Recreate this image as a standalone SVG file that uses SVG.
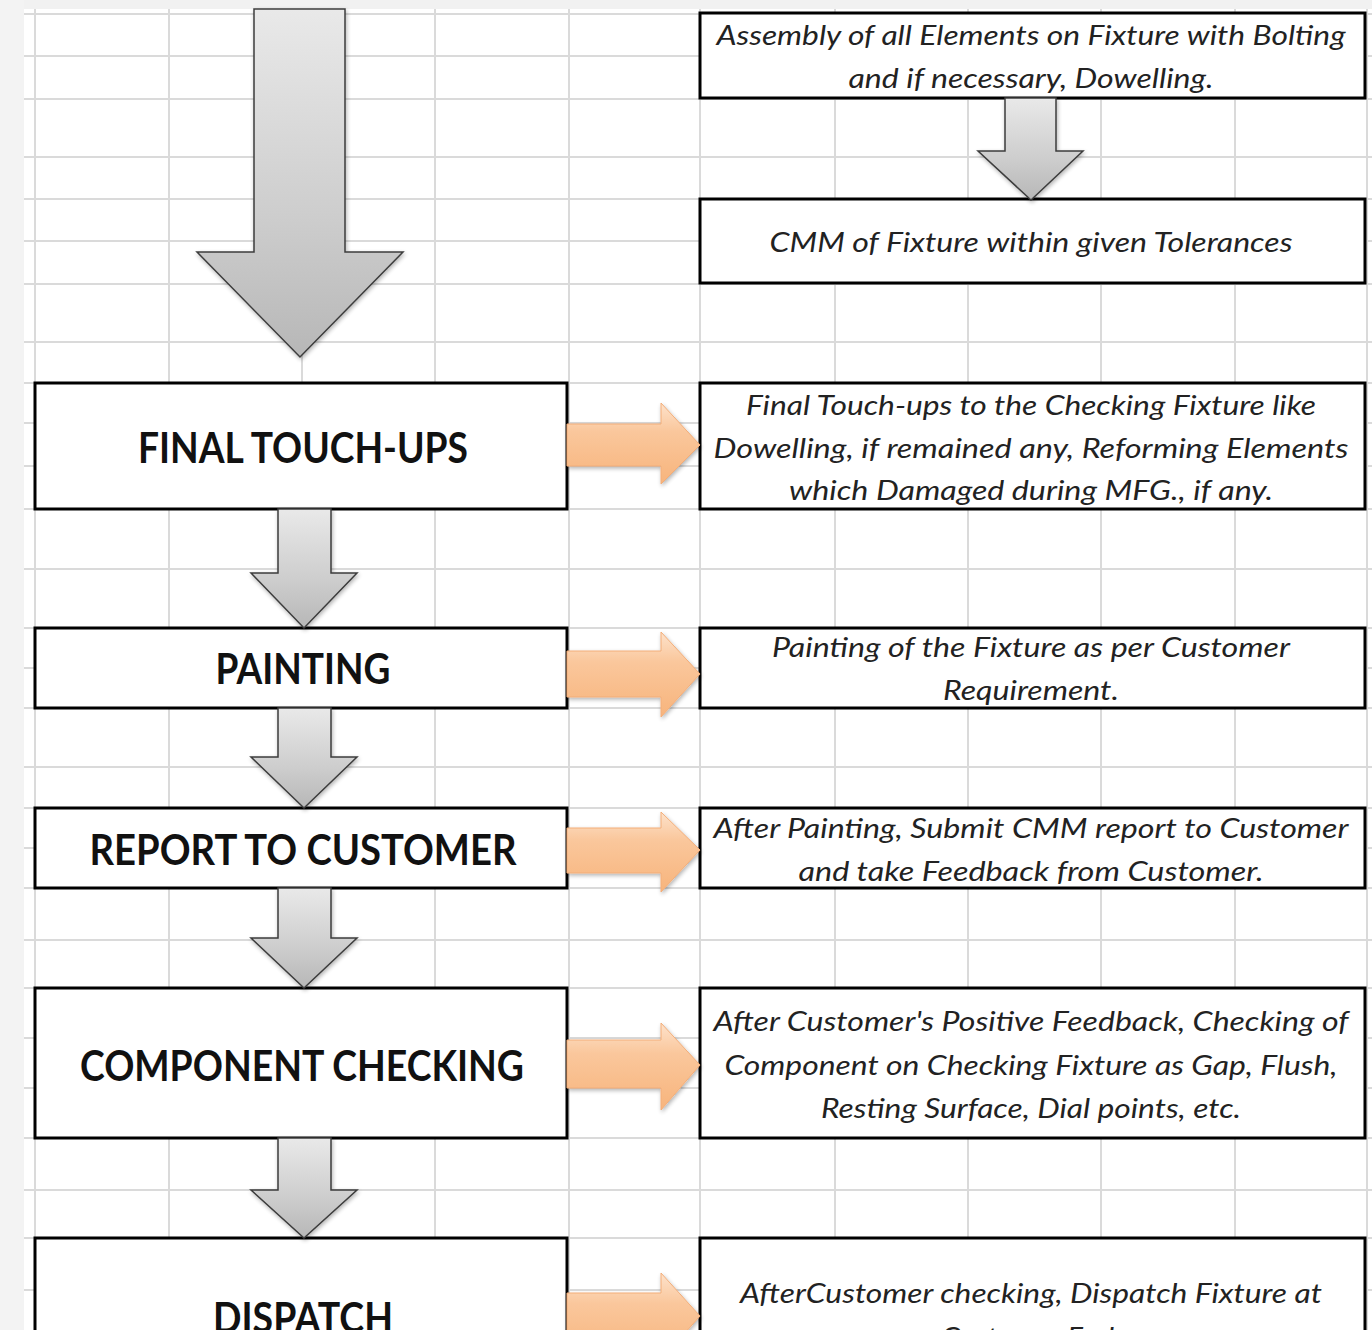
<svg xmlns="http://www.w3.org/2000/svg" width="1372" height="1330" viewBox="0 0 1372 1330">
<defs>
<linearGradient id="gray" x1="0" y1="0" x2="0" y2="1">
<stop offset="0" stop-color="#e9e9e9"/>
<stop offset="0.6" stop-color="#cdcdcd"/>
<stop offset="1" stop-color="#b7b7b7"/>
</linearGradient>
<linearGradient id="orange" x1="0" y1="0" x2="0" y2="1">
<stop offset="0" stop-color="#fde2cb"/>
<stop offset="0.35" stop-color="#fac79c"/>
<stop offset="1" stop-color="#f7b47c"/>
</linearGradient>
<filter id="sh" x="-10%" y="-10%" width="130%" height="130%">
<feGaussianBlur in="SourceAlpha" stdDeviation="2"/>
<feOffset dx="1" dy="2"/>
<feComponentTransfer><feFuncA type="linear" slope="0.3"/></feComponentTransfer>
<feMerge><feMergeNode/><feMergeNode in="SourceGraphic"/></feMerge>
</filter>
</defs>
<style>
.grid line{stroke:#dadada;stroke-width:2}
.box{fill:#ffffff;stroke:#000000;stroke-width:3}
.lbl{font-family:Lato,"Open Sans","Liberation Sans",sans-serif;font-weight:bold;font-size:42px;fill:#111111;text-anchor:middle}
.desc{font-family:Lato,"Open Sans","Liberation Sans",sans-serif;font-style:italic;font-size:27px;fill:#222222;text-anchor:middle}
.ga{fill:url(#gray);stroke:#3c3c3c;stroke-width:1.5;stroke-linejoin:miter}
.oa{fill:url(#orange);stroke:#f3ad78;stroke-width:1}
</style>
<rect x="0" y="0" width="1372" height="1330" fill="#ffffff"/>
<rect x="0" y="0" width="1372" height="9" fill="#f1f1f1"/>
<rect x="0" y="0" width="24" height="1330" fill="#f3f3f3"/>
<g class="grid">
<line x1="24" y1="14" x2="1372" y2="14"/>
<line x1="24" y1="56" x2="1372" y2="56"/>
<line x1="24" y1="99" x2="1372" y2="99"/>
<line x1="24" y1="157" x2="1372" y2="157"/>
<line x1="24" y1="199" x2="1372" y2="199"/>
<line x1="24" y1="241" x2="1372" y2="241"/>
<line x1="24" y1="284" x2="1372" y2="284"/>
<line x1="24" y1="342" x2="1372" y2="342"/>
<line x1="24" y1="383" x2="1372" y2="383"/>
<line x1="24" y1="423" x2="1372" y2="423"/>
<line x1="24" y1="466" x2="1372" y2="466"/>
<line x1="24" y1="509" x2="1372" y2="509"/>
<line x1="24" y1="569" x2="1372" y2="569"/>
<line x1="24" y1="628" x2="1372" y2="628"/>
<line x1="24" y1="668" x2="1372" y2="668"/>
<line x1="24" y1="708" x2="1372" y2="708"/>
<line x1="24" y1="767" x2="1372" y2="767"/>
<line x1="24" y1="808" x2="1372" y2="808"/>
<line x1="24" y1="848" x2="1372" y2="848"/>
<line x1="24" y1="888" x2="1372" y2="888"/>
<line x1="24" y1="940" x2="1372" y2="940"/>
<line x1="24" y1="988" x2="1372" y2="988"/>
<line x1="24" y1="1038" x2="1372" y2="1038"/>
<line x1="24" y1="1088" x2="1372" y2="1088"/>
<line x1="24" y1="1138" x2="1372" y2="1138"/>
<line x1="24" y1="1190" x2="1372" y2="1190"/>
<line x1="24" y1="1238" x2="1372" y2="1238"/>
<line x1="24" y1="1290" x2="1372" y2="1290"/>
<line x1="35" y1="9" x2="35" y2="1330"/>
<line x1="169" y1="9" x2="169" y2="1330"/>
<line x1="302" y1="9" x2="302" y2="1330"/>
<line x1="435" y1="9" x2="435" y2="1330"/>
<line x1="569" y1="9" x2="569" y2="1330"/>
<line x1="700" y1="9" x2="700" y2="1330"/>
<line x1="835" y1="9" x2="835" y2="1330"/>
<line x1="968" y1="9" x2="968" y2="1330"/>
<line x1="1101" y1="9" x2="1101" y2="1330"/>
<line x1="1235" y1="9" x2="1235" y2="1330"/>
<line x1="1367" y1="9" x2="1367" y2="1330"/>
</g>
<g id="assembly"><rect class="box" x="700" y="13" width="665" height="85"/>
<text class="desc" x="1031" y="45" textLength="629" lengthAdjust="spacingAndGlyphs">Assembly of all Elements on Fixture with Bolting</text>
<text class="desc" x="1031" y="88" textLength="365" lengthAdjust="spacingAndGlyphs">and if necessary, Dowelling.</text></g>
<g id="cmm"><rect class="box" x="700" y="199" width="665" height="84"/>
<text class="desc" x="1031" y="252" textLength="523" lengthAdjust="spacingAndGlyphs">CMM of Fixture within given Tolerances</text></g>
<g id="final-touchups"><rect class="box" x="35" y="383" width="532" height="126"/>
<text class="lbl" x="303" y="463" textLength="330" lengthAdjust="spacingAndGlyphs">FINAL TOUCH-UPS</text></g>
<g id="final-touchups-desc"><rect class="box" x="700" y="383" width="665" height="126"/>
<text class="desc" x="1031" y="415" textLength="570" lengthAdjust="spacingAndGlyphs">Final Touch-ups to the Checking Fixture like</text>
<text class="desc" x="1031" y="458" textLength="635" lengthAdjust="spacingAndGlyphs">Dowelling, if remained any, Reforming Elements</text>
<text class="desc" x="1031" y="500" textLength="484" lengthAdjust="spacingAndGlyphs">which Damaged during MFG., if any.</text></g>
<g id="painting"><rect class="box" x="35" y="628" width="532" height="80"/>
<text class="lbl" x="303" y="684" textLength="175" lengthAdjust="spacingAndGlyphs">PAINTING</text></g>
<g id="painting-desc"><rect class="box" x="700" y="628" width="665" height="80"/>
<text class="desc" x="1031" y="657" textLength="518" lengthAdjust="spacingAndGlyphs">Painting of the Fixture as per Customer</text>
<text class="desc" x="1031" y="700" textLength="176" lengthAdjust="spacingAndGlyphs">Requirement.</text></g>
<g id="report"><rect class="box" x="35" y="808" width="532" height="80"/>
<text class="lbl" x="303" y="865" textLength="427" lengthAdjust="spacingAndGlyphs">REPORT TO CUSTOMER</text></g>
<g id="report-desc"><rect class="box" x="700" y="808" width="665" height="80"/>
<text class="desc" x="1031" y="838" textLength="635" lengthAdjust="spacingAndGlyphs">After Painting, Submit CMM report to Customer</text>
<text class="desc" x="1031" y="881" textLength="465" lengthAdjust="spacingAndGlyphs">and take Feedback from Customer.</text></g>
<g id="component"><rect class="box" x="35" y="988" width="532" height="150"/>
<text class="lbl" x="302" y="1081" textLength="444" lengthAdjust="spacingAndGlyphs">COMPONENT CHECKING</text></g>
<g id="component-desc"><rect class="box" x="700" y="988" width="665" height="150"/>
<text class="desc" x="1031" y="1031" textLength="635" lengthAdjust="spacingAndGlyphs">After Customer's Positive Feedback, Checking of</text>
<text class="desc" x="1031" y="1075" textLength="613" lengthAdjust="spacingAndGlyphs">Component on Checking Fixture as Gap, Flush,</text>
<text class="desc" x="1031" y="1118" textLength="420" lengthAdjust="spacingAndGlyphs">Resting Surface, Dial points, etc.</text></g>
<g id="dispatch"><rect class="box" x="35" y="1238" width="532" height="120"/>
<text class="lbl" x="303" y="1333" textLength="180" lengthAdjust="spacingAndGlyphs">DISPATCH</text></g>
<g id="dispatch-desc"><rect class="box" x="700" y="1238" width="665" height="120"/>
<text class="desc" x="1031" y="1303" textLength="582" lengthAdjust="spacingAndGlyphs">AfterCustomer checking, Dispatch Fixture at</text>
<text class="desc" x="1031" y="1347" textLength="180" lengthAdjust="spacingAndGlyphs">Customer End.</text></g>
<g id="connectors">
<polygon class="ga" filter="url(#sh)" points="254,9 345,9 345,252 403,252 300,357 197,252 254,252"/>
<polygon class="ga" filter="url(#sh)" points="1005,98 1056,98 1056,151 1083,151 1031,200 978,151 1005,151"/>
<polygon class="ga" filter="url(#sh)" points="278,509 331,509 331,573 357,573 304,628 251,573 278,573"/>
<polygon class="ga" filter="url(#sh)" points="278,708 331,708 331,757 357,757 304,808 251,757 278,757"/>
<polygon class="ga" filter="url(#sh)" points="278,888 331,888 331,938 357,938 304,988 251,938 278,938"/>
<polygon class="ga" filter="url(#sh)" points="278,1138 331,1138 331,1190 357,1190 304,1238 251,1190 278,1190"/>
<polygon class="oa" filter="url(#sh)" points="567,424 661,424 661,403 700,445 661,484 661,466 567,466"/>
<polygon class="oa" filter="url(#sh)" points="567,651 661,651 661,632 700,674 661,717 661,697 567,697"/>
<polygon class="oa" filter="url(#sh)" points="567,828 661,828 661,812 700,850 661,892 661,873 567,873"/>
<polygon class="oa" filter="url(#sh)" points="567,1040 661,1040 661,1023 700,1065 661,1110 661,1088 567,1088"/>
<polygon class="oa" filter="url(#sh)" points="567,1293 661,1293 661,1273 700,1316 661,1360 661,1340 567,1340"/>
</g>
</svg>
